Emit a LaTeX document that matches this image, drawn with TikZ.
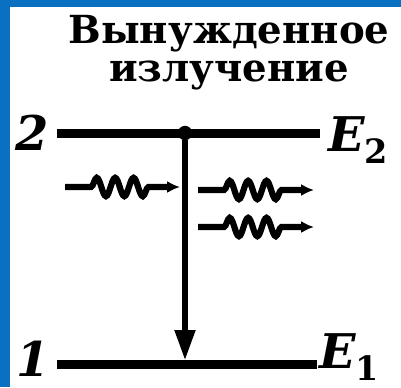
\documentclass[tikz,border=0pt]{standalone}
\usepackage{fontspec}
\setmainfont{DejaVu Serif}
\usetikzlibrary{arrows.meta, positioning, decorations.pathmorphing}
\definecolor{SlideBlue}{HTML}{0A70C2}
\definecolor{InkBlack}{HTML}{000000}
\tikzset{
    % Level and transition styles
    levelline/.style={
        draw=InkBlack,
        line width=6.4pt
    },
    transarrow/.style={
        -{Triangle[length=7.5mm, width=5mm]},
        draw=InkBlack,
        line width=3.6pt
    },
    % Photon wave style
    photon/.style={
        -{Latex[length=3.2mm, width=3mm]},
        draw=InkBlack,
        line width=4.4pt,
        decorate,
        decoration={snake, amplitude=2.3mm, segment length=4.6mm,
                    pre length=6.5mm, post length=7.5mm}
    },
    % Label styles
    levellabel/.style={
        inner sep=0pt,
        font=\fontsize{34}{34}\selectfont\bfseries\itshape
    },
    titlebox/.style={
        inner sep=0pt,
        align=center,
        font=\fontsize{27.5}{27}\selectfont\bfseries
    }
}
\begin{document}
\begin{tikzpicture}[x=0.25mm, y=-0.25mm]
    \useasboundingbox (0,0) rectangle (401,387);
    \fill[SlideBlue] (0,0) rectangle (401,387);
    \fill[white] (10,7) rectangle (401,387);

    \node[titlebox] (title) at (229,53) {Вынужденное\\излучение};

    % energy levels
    \coordinate (up0) at (57,133);
    \coordinate (up1) at (320,133);
    \coordinate (lo0) at (57,364);
    \coordinate (lo1) at (317,364);
    \draw[levelline] (up0) -- (up1);
    \draw[levelline] (lo0) -- (lo1);

    \node[levellabel, anchor=east] (n2) at (49,133) {2};
    \node[levellabel, anchor=base east] (n1) at (50,376) {1};
    \node[levellabel, anchor=west] (e2) at (328,140) {E\textsubscript{\upshape 2}};
    \node[levellabel, anchor=base west] (e1) at (319,368) {E\textsubscript{\upshape 1}};

    % transition
    \node[circle, fill=InkBlack, inner sep=0pt, minimum size=3.6mm] (dot) at (185,133) {};
    \coordinate (hit) at (185,360);
    \draw[transarrow] (dot) -- (hit);

    % photons
    \coordinate (w0) at (65,187);
    \coordinate (w1) at (180,187);
    \coordinate (a0) at (198,190);
    \coordinate (a1) at (314,190);
    \coordinate (b0) at (198,227);
    \coordinate (b1) at (314,227);
    \draw[photon] (w0) -- (w1);
    \draw[photon] (a0) -- (a1);
    \draw[photon] (b0) -- (b1);
\end{tikzpicture}
\end{document}
